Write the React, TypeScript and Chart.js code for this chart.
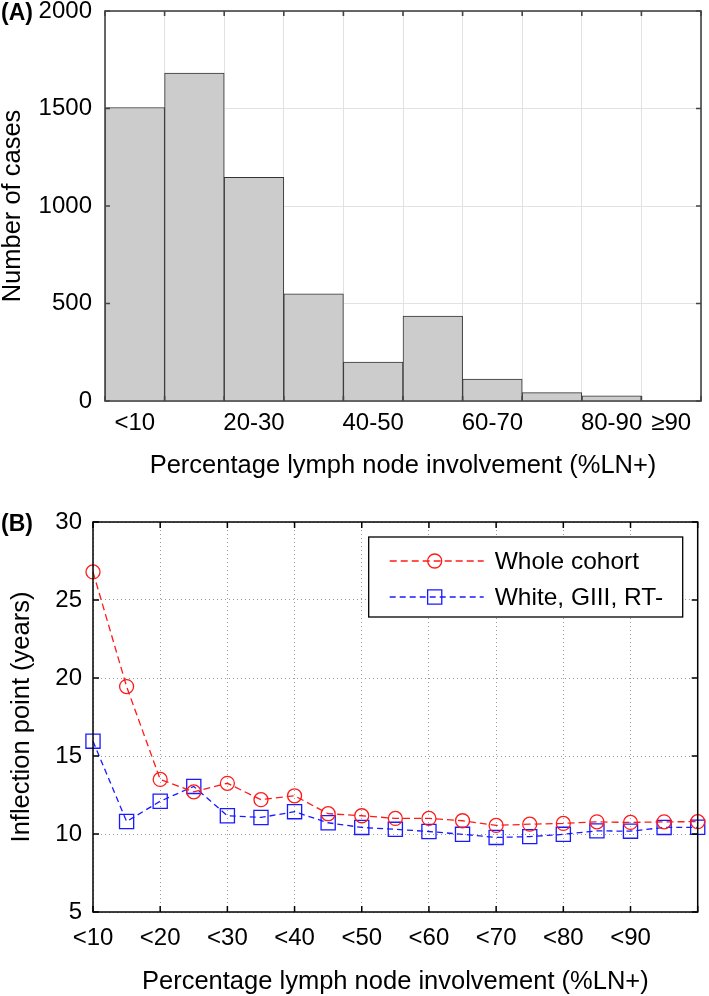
import React, { useEffect, useRef } from "react";
import { Chart, registerables } from "chart.js";

Chart.register(...registerables);

// ---------- Panel A data ----------
const histCategories = ["<10", "10-20", "20-30", "30-40", "40-50", "50-60", "60-70", "70-80", "80-90", "≥90"];
const histTickLabels = ["<10", "", "20-30", "", "40-50", "", "60-70", "", "80-90", "≥90"];
const histCounts = [1505, 1682, 1147, 550, 200, 436, 112, 43, 26, 2];
const histYTicks = [0, 500, 1000, 1500, 2000];

// ---------- Panel B data ----------
const lnThresholds = [10, 15, 20, 25, 30, 35, 40, 45, 50, 55, 60, 65, 70, 75, 80, 85, 90, 95, 100];
const lnTickValues = [10, 20, 30, 40, 50, 60, 70, 80, 90, 100];
const lnTickLabels = ["<10", "<20", "<30", "<40", "<50", "<60", "<70", "<80", "<90", ""];
const wholeCohort = [26.8, 19.45, 13.5, 12.7, 13.25, 12.2, 12.45, 11.3, 11.17, 11.0, 11.0, 10.85, 10.55, 10.63, 10.68, 10.78, 10.74, 10.78, 10.79];
const whiteGIIIRT = [15.95, 10.8, 12.1, 13.05, 11.17, 11.06, 11.43, 10.72, 10.42, 10.3, 10.16, 9.98, 9.78, 9.83, 9.98, 10.2, 10.18, 10.42, 10.43];
const seriesNames = ["Whole cohort", "White, GIII, RT-"];

const FONT = "'Liberation Sans', Arial, Helvetica, sans-serif";
const TICK_SIZE = 24;
const TITLE_SIZE = 25.5;

function framePlugin(color: string, width: number, tickLen: number, edgeMode: "category" | "ticks") {
  return {
    id: "frame",
    afterDraw(chart: any) {
      const { ctx, chartArea } = chart;
      const { left, right, top, bottom } = chartArea;
      const xs = chart.scales.x;
      const ys = chart.scales.y;
      ctx.save();
      ctx.strokeStyle = color;
      ctx.lineWidth = width;
      ctx.setLineDash([]);
      let xPix: number[] = [];
      if (edgeMode === "category") {
        for (let i = 0; i <= histCategories.length; i++) xPix.push(xs.getPixelForValue(i - 0.5));
      } else {
        xPix = xs.ticks.map((t: any) => xs.getPixelForValue(t.value));
      }
      const yPix = ys.ticks.map((t: any) => ys.getPixelForValue(t.value));
      ctx.beginPath();
      xPix.forEach((px) => {
        ctx.moveTo(px, bottom);
        ctx.lineTo(px, bottom - tickLen);
        ctx.moveTo(px, top);
        ctx.lineTo(px, top + tickLen);
      });
      yPix.forEach((py: number) => {
        ctx.moveTo(left, py);
        ctx.lineTo(left + tickLen, py);
        ctx.moveTo(right, py);
        ctx.lineTo(right - tickLen, py);
      });
      ctx.stroke();
      ctx.strokeRect(left, top, right - left, bottom - top);
      ctx.restore();
    },
  };
}

const legendBoxPlugin = {
  id: "legendBox",
  afterDraw(chart: any) {
    const { ctx, chartArea } = chart;
    const w = 314;
    const h = 80;
    const x0 = chartArea.right - 15 - w;
    const y0 = chartArea.top + 15;
    ctx.save();
    ctx.fillStyle = "#ffffff";
    ctx.fillRect(x0, y0, w, h);
    ctx.strokeStyle = "#000000";
    ctx.lineWidth = 1.3;
    ctx.setLineDash([]);
    ctx.strokeRect(x0, y0, w, h);
    chart.data.datasets.forEach((ds: any, i: number) => {
      const cy = y0 + 24 + i * 36;
      ctx.strokeStyle = ds.borderColor;
      ctx.lineWidth = ds.borderWidth;
      ctx.setLineDash(ds.borderDash);
      ctx.beginPath();
      ctx.moveTo(x0 + 21, cy);
      ctx.lineTo(x0 + 115, cy);
      ctx.stroke();
      ctx.setLineDash([]);
      ctx.lineWidth = ds.pointBorderWidth;
      const mx = x0 + 66;
      ctx.beginPath();
      if (ds.pointStyle === "rect") {
        const s = ds.pointRadius * Math.SQRT1_2;
        ctx.rect(mx - s, cy - s, 2 * s, 2 * s);
      } else {
        ctx.arc(mx, cy, ds.pointRadius, 0, Math.PI * 2);
      }
      ctx.stroke();
      ctx.fillStyle = "#000000";
      ctx.font = `24.5px ${FONT}`;
      ctx.textBaseline = "middle";
      ctx.textAlign = "left";
      ctx.fillText(ds.label, x0 + 126, cy + 1);
    });
    ctx.restore();
  },
};

function HistogramChart() {
  const ref = useRef<HTMLCanvasElement>(null);
  useEffect(() => {
    if (!ref.current) return;
    const chart = new Chart(ref.current, {
      type: "bar",
      data: {
        labels: histCategories,
        datasets: [
          {
            data: histCounts,
            backgroundColor: "#cccccc",
            borderColor: "#333333",
            borderWidth: { top: 1, left: 1, right: 1, bottom: 0 } as any,
            borderSkipped: false,
            barPercentage: 1,
            categoryPercentage: 1,
          },
        ],
      },
      options: {
        responsive: false,
        animation: false,
        events: [],
        layout: { padding: { top: 11, right: 8, left: 0, bottom: 0 } },
        plugins: { legend: { display: false }, tooltip: { enabled: false } },
        scales: {
          x: {
            type: "category",
            offset: true,
            grid: { offset: true, color: "#e2e2e2", lineWidth: 1, drawTicks: false },
            border: { display: false },
            ticks: {
              autoSkip: false,
              maxRotation: 0,
              padding: 8,
              color: "#000",
              font: { family: FONT, size: TICK_SIZE },
              callback: (_v: any, i: number) => histTickLabels[i],
            },
            title: {
              display: true,
              text: "Percentage lymph node involvement (%LN+)",
              color: "#000",
              font: { family: FONT, size: TITLE_SIZE, lineHeight: 1 },
              padding: { top: 0, bottom: 11 },
            },
            afterFit: (s: any) => {
              s.height = 89;
              s.paddingLeft = 0;
              s.paddingRight = 0;
            },
          },
          y: {
            min: 0,
            max: 2000,
            afterBuildTicks: (s: any) => {
              s.ticks = histYTicks.map((v) => ({ value: v }));
            },
            grid: { color: "#e2e2e2", lineWidth: 1, drawTicks: false },
            border: { display: false },
            ticks: {
              padding: 13,
              color: "#000",
              font: { family: FONT, size: TICK_SIZE },
              callback: (v: any) => String(v),
            },
            title: {
              display: true,
              text: "Number of cases",
              color: "#000",
              font: { family: FONT, size: TITLE_SIZE, lineHeight: 1 },
              padding: { top: 0, bottom: 0 },
            },
            afterFit: (s: any) => {
              s.width = 105;
              s.paddingTop = 0;
              s.paddingBottom = 0;
            },
          },
        },
      },
      plugins: [framePlugin("#444444", 1.6, 5, "category")],
    });
    return () => chart.destroy();
  }, []);
  return <canvas ref={ref} width={709} height={490} style={{ display: "block", width: 709, height: 490 }} />;
}

function InflectionChart() {
  const ref = useRef<HTMLCanvasElement>(null);
  useEffect(() => {
    if (!ref.current) return;
    const chart = new Chart(ref.current, {
      type: "line",
      data: {
        datasets: [
          {
            label: seriesNames[0],
            data: lnThresholds.map((x, i) => ({ x, y: wholeCohort[i] })),
            borderColor: "#ff1a1a",
            borderWidth: 1.3,
            borderDash: [7, 4],
            pointStyle: "circle",
            pointRadius: 7,
            pointBorderColor: "#ff1a1a",
            pointBackgroundColor: "rgba(0,0,0,0)",
            pointBorderWidth: 1.3,
            clip: false as any,
            tension: 0,
          },
          {
            label: seriesNames[1],
            data: lnThresholds.map((x, i) => ({ x, y: whiteGIIIRT[i] })),
            borderColor: "#1a1aff",
            borderWidth: 1.3,
            borderDash: [6, 4],
            pointStyle: "rect",
            pointRadius: 10,
            pointBorderColor: "#1a1aff",
            pointBackgroundColor: "rgba(0,0,0,0)",
            pointBorderWidth: 1.3,
            clip: false as any,
            tension: 0,
          },
        ],
      },
      options: {
        responsive: false,
        animation: false,
        events: [],
        layout: { padding: { top: 32, right: 9, left: 0, bottom: 0 } },
        plugins: { legend: { display: false }, tooltip: { enabled: false } },
        scales: {
          x: {
            type: "linear",
            min: 10,
            max: 100,
            afterBuildTicks: (s: any) => {
              s.ticks = lnTickValues.map((v) => ({ value: v }));
            },
            grid: { color: "#9a9a9a", lineWidth: 1, drawTicks: false },
            border: { display: false, dash: [1, 3] },
            ticks: {
              padding: 12,
              color: "#000",
              font: { family: FONT, size: TICK_SIZE },
              callback: (v: any) => {
                const i = lnTickValues.indexOf(Number(v));
                return i >= 0 ? lnTickLabels[i] : "";
              },
            },
            title: {
              display: true,
              text: "Percentage lymph node involvement (%LN+)",
              color: "#000",
              font: { family: FONT, size: TITLE_SIZE, lineHeight: 1 },
              padding: { top: 0, bottom: 1 },
            },
            afterFit: (s: any) => {
              s.height = 84;
              s.paddingLeft = 0;
              s.paddingRight = 0;
            },
          },
          y: {
            min: 5,
            max: 30,
            ticks: { stepSize: 5, padding: 11, color: "#000", font: { family: FONT, size: TICK_SIZE } },
            grid: { color: "#9a9a9a", lineWidth: 1, drawTicks: false },
            border: { display: false, dash: [1, 3] },
            title: {
              display: true,
              text: "Inflection point (years)",
              color: "#000",
              font: { family: FONT, size: TITLE_SIZE, lineHeight: 1 },
              padding: { top: 9, bottom: 0 },
            },
            afterFit: (s: any) => {
              s.width = 93;
              s.paddingTop = 0;
              s.paddingBottom = 0;
            },
          },
        },
      },
      plugins: [framePlugin("#000000", 1.5, 6, "ticks"), legendBoxPlugin],
    });
    return () => chart.destroy();
  }, []);
  return <canvas ref={ref} width={709} height={506} style={{ display: "block", width: 709, height: 506 }} />;
}

export default function App() {
  const panelLabel: React.CSSProperties = {
    position: "absolute",
    left: 1,
    fontFamily: FONT,
    fontWeight: "bold",
    fontSize: 23,
    lineHeight: "24px",
    color: "#000",
  };
  return (
    <div style={{ position: "absolute", left: 0, top: 0, width: 709, height: 996, background: "#fff", overflow: "hidden" }}>
      <div style={{ position: "absolute", left: 0, top: 0 }}>
        <HistogramChart />
      </div>
      <div style={{ position: "absolute", left: 0, top: 490 }}>
        <InflectionChart />
      </div>
      <div style={{ ...panelLabel, top: 0 }}>(A)</div>
      <div style={{ ...panelLabel, top: 511 }}>(B)</div>
    </div>
  );
}
